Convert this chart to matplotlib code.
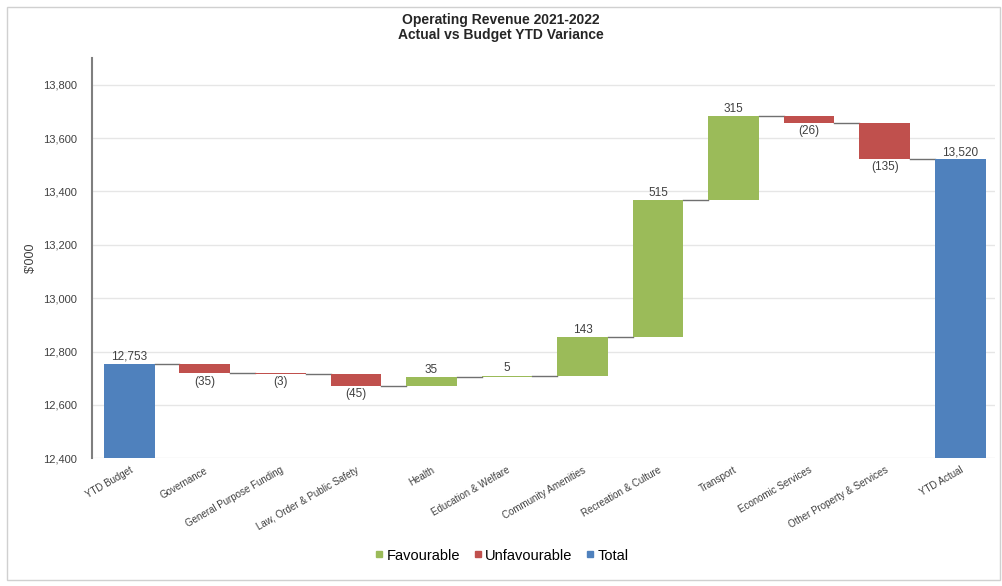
import matplotlib
matplotlib.use("Agg")
import matplotlib.pyplot as plt
from matplotlib.patches import Rectangle
from matplotlib.lines import Line2D

categories = ["YTD Budget", "Governance", "General Purpose Funding",
              "Law, Order & Public Safety", "Health", "Education & Welfare",
              "Community Amenities", "Recreation & Culture", "Transport",
              "Economic Services", "Other Property & Services", "YTD Actual"]
budget_total = 12753
variances = [-35, -3, -45, 35, 5, 143, 515, 315, -26, -135]
actual_total = 13520
y_ticks = [12400, 12600, 12800, 13000, 13200, 13400, 13600, 13800]

GREEN = "#9BBB59"
RED = "#C0504D"
BLUE = "#4F81BD"

plt.rcParams["font.family"] = ["Liberation Sans", "DejaVu Sans"]

fig = plt.figure(figsize=(10.02, 5.86), dpi=100)
ax = fig.add_axes([0.092, 0.218, 0.901, 0.683])

base = 12400
width = 0.67

def fmt(v):
    return f"({abs(v):,})" if v < 0 else f"{v:,}"

# opening total
ax.bar(0, budget_total - base, bottom=base, width=width, color=BLUE, zorder=3)
ax.text(0, budget_total + 4, f"{budget_total:,}", ha="center", va="bottom",
        fontsize=8.5, color="#404040", zorder=4)

running = budget_total
levels = [running]
for i, v in enumerate(variances, start=1):
    start = running
    end = running + v
    lo, hi = min(start, end), max(start, end)
    ax.bar(i, hi - lo, bottom=lo, width=width,
           color=GREEN if v >= 0 else RED, zorder=3)
    if v >= 0:
        ax.text(i, hi + 4, fmt(v), ha="center", va="bottom",
                fontsize=8.5, color="#404040", zorder=4)
    else:
        ax.text(i, lo - 8, fmt(v), ha="center", va="top",
                fontsize=8.5, color="#404040", zorder=4)
    running = end
    levels.append(running)

# closing total
n = len(categories) - 1
ax.bar(n, actual_total - base, bottom=base, width=width, color=BLUE, zorder=3)
ax.text(n, actual_total + 4, f"{actual_total:,}", ha="center", va="bottom",
        fontsize=8.5, color="#404040", zorder=4)

# connectors between consecutive bars
for i in range(n):
    y = levels[i]
    ax.plot([i + width / 2, i + 1 - width / 2], [y, y],
            color="#707070", lw=1.0, zorder=2)

ax.set_xlim(-0.49, 11.46)
ax.set_ylim(12400, 13900)
ax.set_yticks(y_ticks)
ax.set_yticklabels([f"{t:,}" for t in y_ticks], fontsize=8, color="#404040")
ax.yaxis.grid(True, color="#e6e6e6", lw=1.0, zorder=0)
ax.set_axisbelow(True)
ax.tick_params(axis="y", length=0, pad=11)
ax.tick_params(axis="x", length=0, pad=5)
ax.set_xticks(range(len(categories)))
ax.set_xticklabels(categories, rotation=30, ha="right", rotation_mode="anchor",
                   fontsize=7, color="#404040")
for s in ["top", "right", "bottom"]:
    ax.spines[s].set_visible(False)
ax.spines["left"].set_color("#7f7f7f")
ax.spines["left"].set_linewidth(1.5)
ax.set_ylabel("$'000", fontsize=9, color="#404040", labelpad=4)

fig.suptitle("Operating Revenue 2021-2022\nActual vs Budget YTD Variance",
             x=0.5, y=0.978, fontsize=10, fontweight="bold", color="#262626",
             linespacing=1.1)

handles = [Line2D([], [], marker="s", ls="", color=c, markersize=5)
           for c in (GREEN, RED, BLUE)]
fig.legend(handles, ["Favourable", "Unfavourable", "Total"], loc="center",
           bbox_to_anchor=(0.5, 0.052), ncol=3, frameon=False, fontsize=10.5,
           handletextpad=0.1, columnspacing=0.8, handlelength=0.8)

# outer chart frame
fig.patches.append(Rectangle((0.007, 0.01), 0.991, 0.978, transform=fig.transFigure,
                             fill=False, edgecolor="#d0d0d0", lw=1.0))

fig.savefig("out.png", dpi=100)
